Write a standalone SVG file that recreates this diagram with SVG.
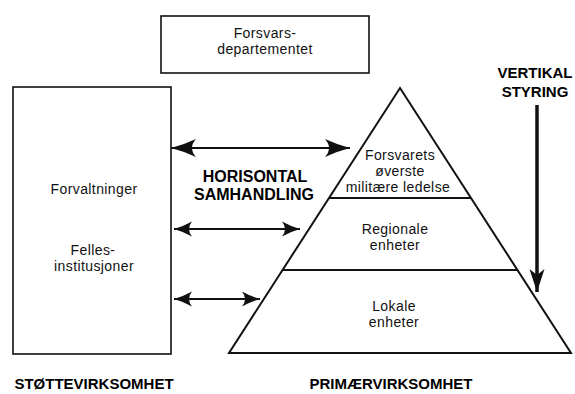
<svg xmlns="http://www.w3.org/2000/svg" width="575" height="394" viewBox="0 0 575 394">
<style>
  .box{fill:#fff;stroke:#111;stroke-width:1.6}
  .pyr{fill:#fff;stroke:#111;stroke-width:2}
  .t{font-family:"Liberation Sans",Arial,Helvetica,sans-serif;font-size:14px;letter-spacing:0.4px;fill:#111;text-anchor:middle}
  .b{font-family:"Liberation Sans",Arial,Helvetica,sans-serif;font-size:15px;font-weight:bold;fill:#000;text-anchor:middle}
  .b16{font-size:16px}
  .conn{stroke:#111;stroke-width:1.8;fill:none}
</style>
<defs>
  <marker id="bigHead" viewBox="-26 -10 27 20" refX="0" refY="0" markerWidth="27" markerHeight="20" markerUnits="userSpaceOnUse" orient="auto-start-reverse">
    <path d="M0,0 Q-12,-3 -25,-9 Q-17,0 -25,9 Q-12,3 0,0Z" fill="#111"/>
  </marker>
  <marker id="smallHead" viewBox="-19 -9 20 18" refX="0" refY="0" markerWidth="20" markerHeight="18" markerUnits="userSpaceOnUse" orient="auto-start-reverse">
    <path d="M0,0 Q-9,-2.5 -18,-7.5 Q-12,0 -18,7.5 Q-9,2.5 0,0Z" fill="#111"/>
  </marker>
  <marker id="vHead" viewBox="-24 -9 25 18" refX="0" refY="0" markerWidth="25" markerHeight="18" markerUnits="userSpaceOnUse" orient="auto">
    <path d="M0,0 L-23,-7.5 L-17,0 L-23,7.5Z" fill="#111"/>
  </marker>
</defs>

<g id="forsvarsdepartementet">
  <rect class="box" x="161" y="16" width="208" height="57"/>
  <text class="t" x="265" y="38">Forsvars-</text>
  <text class="t" x="265" y="54">departementet</text>
</g>

<g id="stottevirksomhet">
  <rect class="box" x="13" y="87" width="158" height="267"/>
  <text class="t" x="94" y="194">Forvaltninger</text>
  <text class="t" x="93" y="255">Felles-</text>
  <text class="t" x="94" y="271">institusjoner</text>
</g>

<g id="pyramide">
  <polygon class="pyr" points="400,88 571,353 229,353"/>
  <line class="pyr" x1="329" y1="198" x2="471" y2="198"/>
  <line class="pyr" x1="283" y1="270" x2="517" y2="270"/>
  <text class="t" x="400" y="160">Forsvarets</text>
  <text class="t" x="400" y="176">øverste</text>
  <text class="t" x="398" y="192">militære ledelse</text>
  <text class="t" x="395" y="234">Regionale</text>
  <text class="t" x="395" y="250">enheter</text>
  <text class="t" x="394" y="311">Lokale</text>
  <text class="t" x="394" y="327">enheter</text>
</g>

<g id="labels">
  <text class="b" x="535" y="78">VERTIKAL</text>
  <text class="b" x="535" y="97">STYRING</text>
  <text class="b b16" x="255" y="182">HORISONTAL</text>
  <text class="b b16" x="254" y="200">SAMHANDLING</text>
  <text class="b" x="94" y="389">STØTTEVIRKSOMHET</text>
  <text class="b" x="391" y="389">PRIMÆRVIRKSOMHET</text>
</g>

<g id="connectors">
  <line class="conn" x1="171" y1="148" x2="350" y2="148" marker-start="url(#bigHead)" marker-end="url(#bigHead)"/>
  <line class="conn" x1="174" y1="229" x2="300" y2="229" marker-start="url(#smallHead)" marker-end="url(#smallHead)"/>
  <line class="conn" x1="174" y1="299" x2="260" y2="299" marker-start="url(#smallHead)" marker-end="url(#smallHead)"/>
  <line class="conn" style="stroke-width:3.5" x1="537" y1="105" x2="537" y2="292" marker-end="url(#vHead)"/>
</g>
</svg>
